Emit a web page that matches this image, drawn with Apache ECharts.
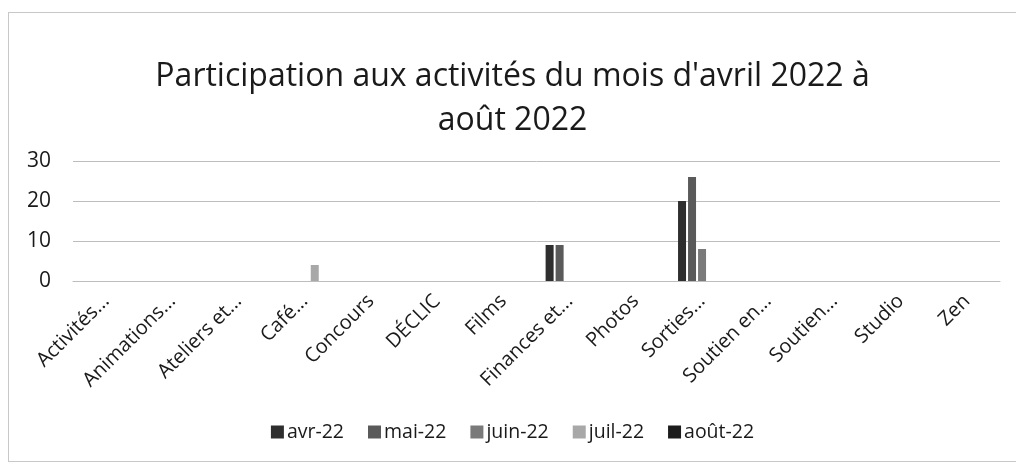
<!DOCTYPE html>
<html>
<head>
<meta charset="utf-8">
<script src="https://cdn.jsdelivr.net/npm/echarts@6/dist/echarts.min.js"></script>
<style>
html,body{margin:0;padding:0;background:#fff;}
#frame{position:absolute;left:8px;top:12px;width:1007px;height:448px;border:1px solid #c8c8c8;border-right:none;}
#chart{position:absolute;left:0;top:0;width:1025px;height:466px;}
</style>
</head>
<body>
<div id="frame"></div>
<div id="chart"></div>
<script>
const categories = ["Activités...","Animations...","Ateliers et...","Café...","Concours","DÉCLIC","Films","Finances et...","Photos","Sorties...","Soutien en...","Soutien...","Studio","Zen"];
const seriesNames = ["avr-22","mai-22","juin-22","juil-22","août-22"];
const avr22  = [null,null,null,null,null,null,null,9,null,20,null,null,null,null];
const mai22  = [null,null,null,null,null,null,null,9,null,26,null,null,null,null];
const juin22 = [null,null,null,null,null,null,null,null,null,8,null,null,null,null];
const juil22 = [null,null,null,4,null,null,null,null,null,null,null,null,null,null];
const aout22 = [null,null,null,null,null,null,null,null,null,null,null,null,null,null];
const yTicks = [0,10,20,30];
const colors = ["#2e2e2e","#5a5a5a","#7a7a7a","#a8a8a8","#1c1c1c"];
const values = [avr22, mai22, juin22, juil22, aout22];

const font = "'Open Sans', 'Noto Sans', sans-serif";
const chart = echarts.init(document.getElementById('chart'), null, {renderer:'canvas'});
chart.setOption({
  animation:false,
  backgroundColor:'transparent',
  color: colors,
  title:{
    text:"Participation aux activités du mois d'avril 2022 à\naoût 2022",
    left:'center', top:50,
    textStyle:{fontFamily:font, fontSize:32, fontWeight:'normal', color:'#1a1a1a', lineHeight:44}
  },
  legend:{
    bottom:19, left:'center',
    itemWidth:13, itemHeight:13, itemGap:24, itemStyle:{borderWidth:0},
    icon:'rect',
    textStyle:{fontFamily:font, fontSize:19.5, color:'#1a1a1a', padding:[0,0,0,-2]},
    data: seriesNames
  },
  grid:{left:73, right:25, top:161, bottom:185},
  xAxis:{
    type:'category',
    data: categories,
    axisLine:{show:true, lineStyle:{color:'#bdbdbd'}},
    axisTick:{show:false},
    axisLabel:{rotate:45, interval:0, fontFamily:font, fontSize:20, color:'#1a1a1a', margin:17}
  },
  yAxis:{
    type:'value', min:0, max:30, interval:10,
    axisLine:{show:false}, axisTick:{show:false},
    axisLabel:{fontFamily:font, fontSize:21, color:'#1a1a1a', margin:22},
    splitLine:{lineStyle:{color:'#bdbdbd', width:1}}
  },
  series: seriesNames.map((n,i)=>({
    name:n, type:'bar', data: values[i], barWidth:8, barGap:'25%'
  }))
});
</script>
</body>
</html>
